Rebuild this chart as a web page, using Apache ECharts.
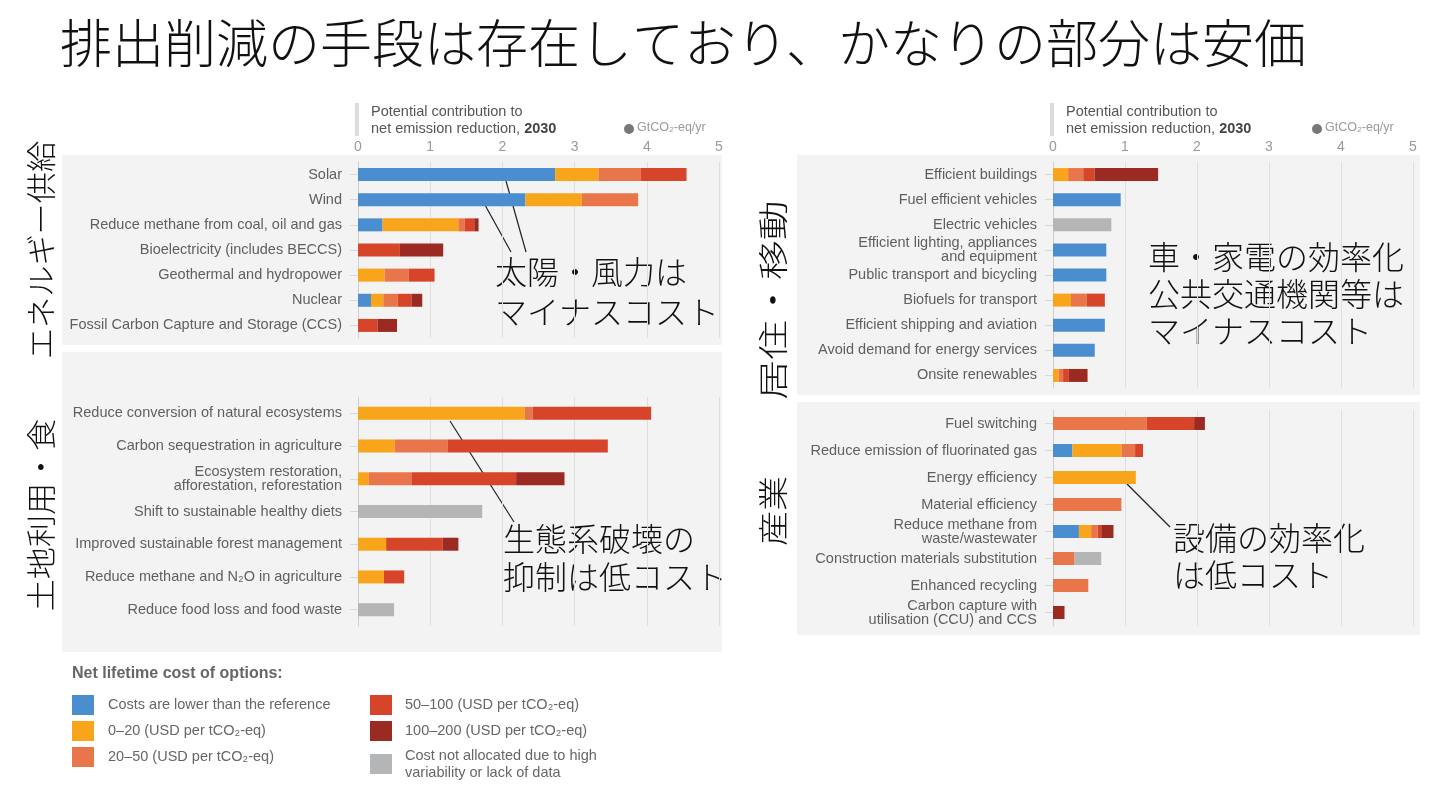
<!DOCTYPE html>
<html>
<head>
<meta charset="utf-8">
<title>排出削減の手段</title>
<script src="https://cdn.jsdelivr.net/npm/echarts@6/dist/echarts.min.js"></script>
<style>
  html, body { margin: 0; padding: 0; background: #fff; }
  #chart { width: 1440px; height: 800px; }
</style>
</head>
<body>
<div id="chart"></div>
<script>
// 費用区分
var costNames = [
    'Costs are lower than the reference',
    '0–20 (USD per tCO₂-eq)',
    '20–50 (USD per tCO₂-eq)',
    '50–100 (USD per tCO₂-eq)',
    '100–200 (USD per tCO₂-eq)',
    'Cost not allocated due to high\nvariability or lack of data'
];
var costColors = ['#4a8ecf', '#f8a51c', '#e9764a', '#d6452a', '#9b2b22', '#b4b5b7'];

// エネルギー供給
var energyCats = ['Solar', 'Wind', 'Reduce methane from coal, oil and gas', 'Bioelectricity (includes BECCS)',
    'Geothermal and hydropower', 'Nuclear', 'Fossil Carbon Capture and Storage (CCS)'];
var energyBlue   = [2.73, 2.32, 0.34, 0, 0, 0.18, 0];
var energyYellow = [0.60, 0.78, 1.05, 0, 0.37, 0.17, 0];
var energyOrange = [0.59, 0.78, 0.09, 0, 0.33, 0.20, 0];
var energyRed    = [0.63, 0, 0.13, 0.58, 0.36, 0.19, 0.27];
var energyDark   = [0, 0, 0.06, 0.60, 0, 0.15, 0.27];
var energyGray   = [0, 0, 0, 0, 0, 0, 0];

// 土地利用・食
var landCats = ['Reduce conversion of natural ecosystems', 'Carbon sequestration in agriculture',
    'Ecosystem restoration,\nafforestation, reforestation', 'Shift to sustainable healthy diets',
    'Improved sustainable forest management', 'Reduce methane and N₂O in agriculture',
    'Reduce food loss and food waste'];
var landBlue   = [0, 0, 0, 0, 0, 0, 0];
var landYellow = [2.31, 0.51, 0.15, 0, 0.39, 0.36, 0];
var landOrange = [0.11, 0.73, 0.59, 0, 0, 0, 0];
var landRed    = [1.64, 2.22, 1.45, 0, 0.78, 0.28, 0];
var landDark   = [0, 0, 0.67, 0, 0.22, 0, 0];
var landGray   = [0, 0, 0, 1.72, 0, 0, 0.50];

// 居住・移動
var bldgCats = ['Efficient buildings', 'Fuel efficient vehicles', 'Electric vehicles',
    'Efficient lighting, appliances\nand equipment', 'Public transport and bicycling',
    'Biofuels for transport', 'Efficient shipping and aviation',
    'Avoid demand for energy services', 'Onsite renewables'];
var bldgBlue   = [0, 0.94, 0, 0.74, 0.74, 0, 0.72, 0.58, 0];
var bldgYellow = [0.21, 0, 0, 0, 0, 0.25, 0, 0, 0.08];
var bldgOrange = [0.21, 0, 0, 0, 0, 0.22, 0, 0, 0.06];
var bldgRed    = [0.16, 0, 0, 0, 0, 0.25, 0, 0, 0.08];
var bldgDark   = [0.88, 0, 0, 0, 0, 0, 0, 0, 0.26];
var bldgGray   = [0, 0, 0.81, 0, 0, 0, 0, 0, 0];

// 産業
var indCats = ['Fuel switching', 'Reduce emission of fluorinated gas', 'Energy efficiency',
    'Material efficiency', 'Reduce methane from\nwaste/wastewater', 'Construction materials substitution',
    'Enhanced recycling', 'Carbon capture with\nutilisation (CCU) and CCS'];
var indBlue   = [0, 0.27, 0, 0, 0.36, 0, 0, 0];
var indYellow = [0, 0.68, 1.15, 0, 0.17, 0, 0, 0];
var indOrange = [1.30, 0.19, 0, 0.95, 0.09, 0.30, 0.49, 0];
var indRed    = [0.66, 0.11, 0, 0, 0.05, 0, 0, 0];
var indDark   = [0.15, 0, 0, 0, 0.17, 0, 0, 0.16];
var indGray   = [0, 0, 0, 0, 0, 0.37, 0, 0];

var xTicks = [0, 1, 2, 3, 4, 5];

var panels = [
    {cats: energyCats, data: [energyBlue, energyYellow, energyOrange, energyRed, energyDark, energyGray]},
    {cats: landCats, data: [landBlue, landYellow, landOrange, landRed, landDark, landGray]},
    {cats: bldgCats, data: [bldgBlue, bldgYellow, bldgOrange, bldgRed, bldgDark, bldgGray]},
    {cats: indCats, data: [indBlue, indYellow, indOrange, indRed, indDark, indGray]}
];

var grids = [
    {left: 358, width: 361, top: 162, height: 176},
    {left: 358, width: 361, top: 397, height: 229},
    {left: 1053, width: 360, top: 162, height: 226},
    {left: 1053, width: 360, top: 410, height: 216}
];

var labelFont = 'Liberation Sans';
var xAxes = [], yAxes = [], seriesList = [];
for (var i = 0; i < panels.length; i++) {
    var showTop = (i === 0 || i === 2);
    xAxes.push({
        gridIndex: i, type: 'value', position: 'top',
        min: xTicks[0], max: xTicks[xTicks.length - 1], interval: 1,
        axisLine: {show: false}, axisTick: {show: false},
        axisLabel: {show: showTop, color: '#9a9a9a', fontSize: 14, margin: 8, fontFamily: labelFont},
        splitLine: {show: true, lineStyle: {color: '#dedede', width: 1}}
    });
    yAxes.push({
        gridIndex: i, type: 'category', inverse: true, data: panels[i].cats,
        axisLine: {show: true, lineStyle: {color: '#cfcfcf'}},
        axisTick: {show: true, alignWithLabel: true, length: 8, lineStyle: {color: '#d8d8d8'}},
        axisLabel: {color: '#5f5f5f', fontSize: 14.5, margin: 16, lineHeight: 14, fontFamily: labelFont}
    });
    for (var k = 0; k < costNames.length; k++) {
        seriesList.push({
            name: costNames[k], type: 'bar', stack: 'p' + i,
            xAxisIndex: i, yAxisIndex: i, barWidth: 13,
            itemStyle: {color: costColors[k]},
            data: panels[i].data[k]
        });
    }
}

// 見出しテキスト
function header(x, ux) {
    return [
        {type: 'rect', shape: {x: x - 3, y: 103, width: 4, height: 33}, style: {fill: '#dcdcdc'}},
        {type: 'text', left: x + 13, top: 103, style: {
            text: 'Potential contribution to\n{n|net emission reduction, }{b|2030}',
            fill: '#555', font: '14.5px ' + labelFont, lineHeight: 17,
            rich: {n: {fill: '#555', fontSize: 14.5, fontFamily: labelFont},
                   b: {fill: '#444', fontSize: 14.5, fontWeight: 'bold', fontFamily: labelFont}}
        }},
        {type: 'circle', shape: {cx: ux - 8, cy: 129, r: 5}, style: {fill: '#777'}},
        {type: 'text', left: ux, top: 121, style: {text: 'GtCO₂-eq/yr', fill: '#9a9a9a', font: '12.5px ' + labelFont}}
    ];
}

// 縦書き（回転）ラベル
function sideLabel(x, y, text, stretch) {
    return {type: 'text', x: x, y: y, rotation: Math.PI / 2, scaleX: stretch,
        style: {text: text, fill: '#111', font: '300 30px ' + bigFont,
            textAlign: 'center', textVerticalAlign: 'middle'}};
}

var bigFont = '"Noto Sans CJK JP", sans-serif';
var graphics = [
    {type: 'rect', z: -10, shape: {x: 62, y: 155, width: 660, height: 190}, style: {fill: '#f3f3f3'}},
    {type: 'rect', z: -10, shape: {x: 62, y: 352, width: 660, height: 300}, style: {fill: '#f3f3f3'}},
    {type: 'rect', z: -10, shape: {x: 797, y: 155, width: 623, height: 240}, style: {fill: '#f3f3f3'}},
    {type: 'rect', z: -10, shape: {x: 797, y: 402, width: 623, height: 233}, style: {fill: '#f3f3f3'}},
    // タイトル
    {type: 'text', left: 60, top: 17, style: {text: '排出削減の手段は存在しており、かなりの部分は安価',
        fill: '#111', font: '300 52px ' + bigFont}},
    sideLabel(41, 250, 'エネルギー供給', 1.04),
    sideLabel(41, 515, '土地利用・食', 1.07),
    sideLabel(773, 300, '居住・移動', 1.33),
    sideLabel(773, 511, '産業', 1.17),
    // 注記
    {type: 'text', left: 495, top: 252, style: {text: '太陽・風力は\nマイナスコスト', fill: '#111',
        font: '300 32px ' + bigFont, lineHeight: 40}},
    {type: 'text', left: 503, top: 520, style: {text: '生態系破壊の\n抑制は低コスト', fill: '#111',
        font: '300 32px ' + bigFont, lineHeight: 38}},
    {type: 'text', left: 1148, top: 238, style: {text: '車・家電の効率化\n公共交通機関等は\nマイナスコスト', fill: '#111',
        font: '300 32px ' + bigFont, lineHeight: 37}},
    {type: 'text', left: 1173, top: 519, style: {text: '設備の効率化\nは低コスト', fill: '#111',
        font: '300 32px ' + bigFont, lineHeight: 37}},
    {type: 'line', shape: {x1: 506, y1: 181, x2: 526, y2: 252}, style: {stroke: '#222', lineWidth: 1.2}},
    {type: 'line', shape: {x1: 485, y1: 205, x2: 511, y2: 252}, style: {stroke: '#222', lineWidth: 1.2}},
    {type: 'line', shape: {x1: 450, y1: 421, x2: 514, y2: 522}, style: {stroke: '#222', lineWidth: 1.2}},
    {type: 'line', shape: {x1: 1127, y1: 484, x2: 1170, y2: 527}, style: {stroke: '#222', lineWidth: 1.2}},
    // 凡例タイトル
    {type: 'text', left: 72, top: 666, style: {text: 'Net lifetime cost of options:', fill: '#666',
        font: 'bold 16px ' + labelFont}}
].concat(header(358, 637)).concat(header(1053, 1325));

var option = {
    animation: false,
    backgroundColor: '#fff',
    grid: grids,
    xAxis: xAxes,
    yAxis: yAxes,
    legend: [
        {orient: 'vertical', left: 67, top: 690, itemWidth: 22, itemHeight: 20, itemGap: 6,
            icon: 'rect', data: costNames.slice(0, 3), selectedMode: false,
            textStyle: {color: '#666', fontSize: 14.5, fontFamily: labelFont, padding: [0, 0, 0, 9]}},
        {orient: 'vertical', left: 365, top: 690, itemWidth: 22, itemHeight: 20, itemGap: 6,
            icon: 'rect', data: costNames.slice(3), selectedMode: false,
            textStyle: {color: '#666', fontSize: 14.5, fontFamily: labelFont, lineHeight: 17, padding: [0, 0, 0, 8]}}
    ],
    graphic: graphics,
    series: seriesList
};

var myChart = echarts.init(document.getElementById('chart'));
myChart.setOption(option);
</script>
</body>
</html>
